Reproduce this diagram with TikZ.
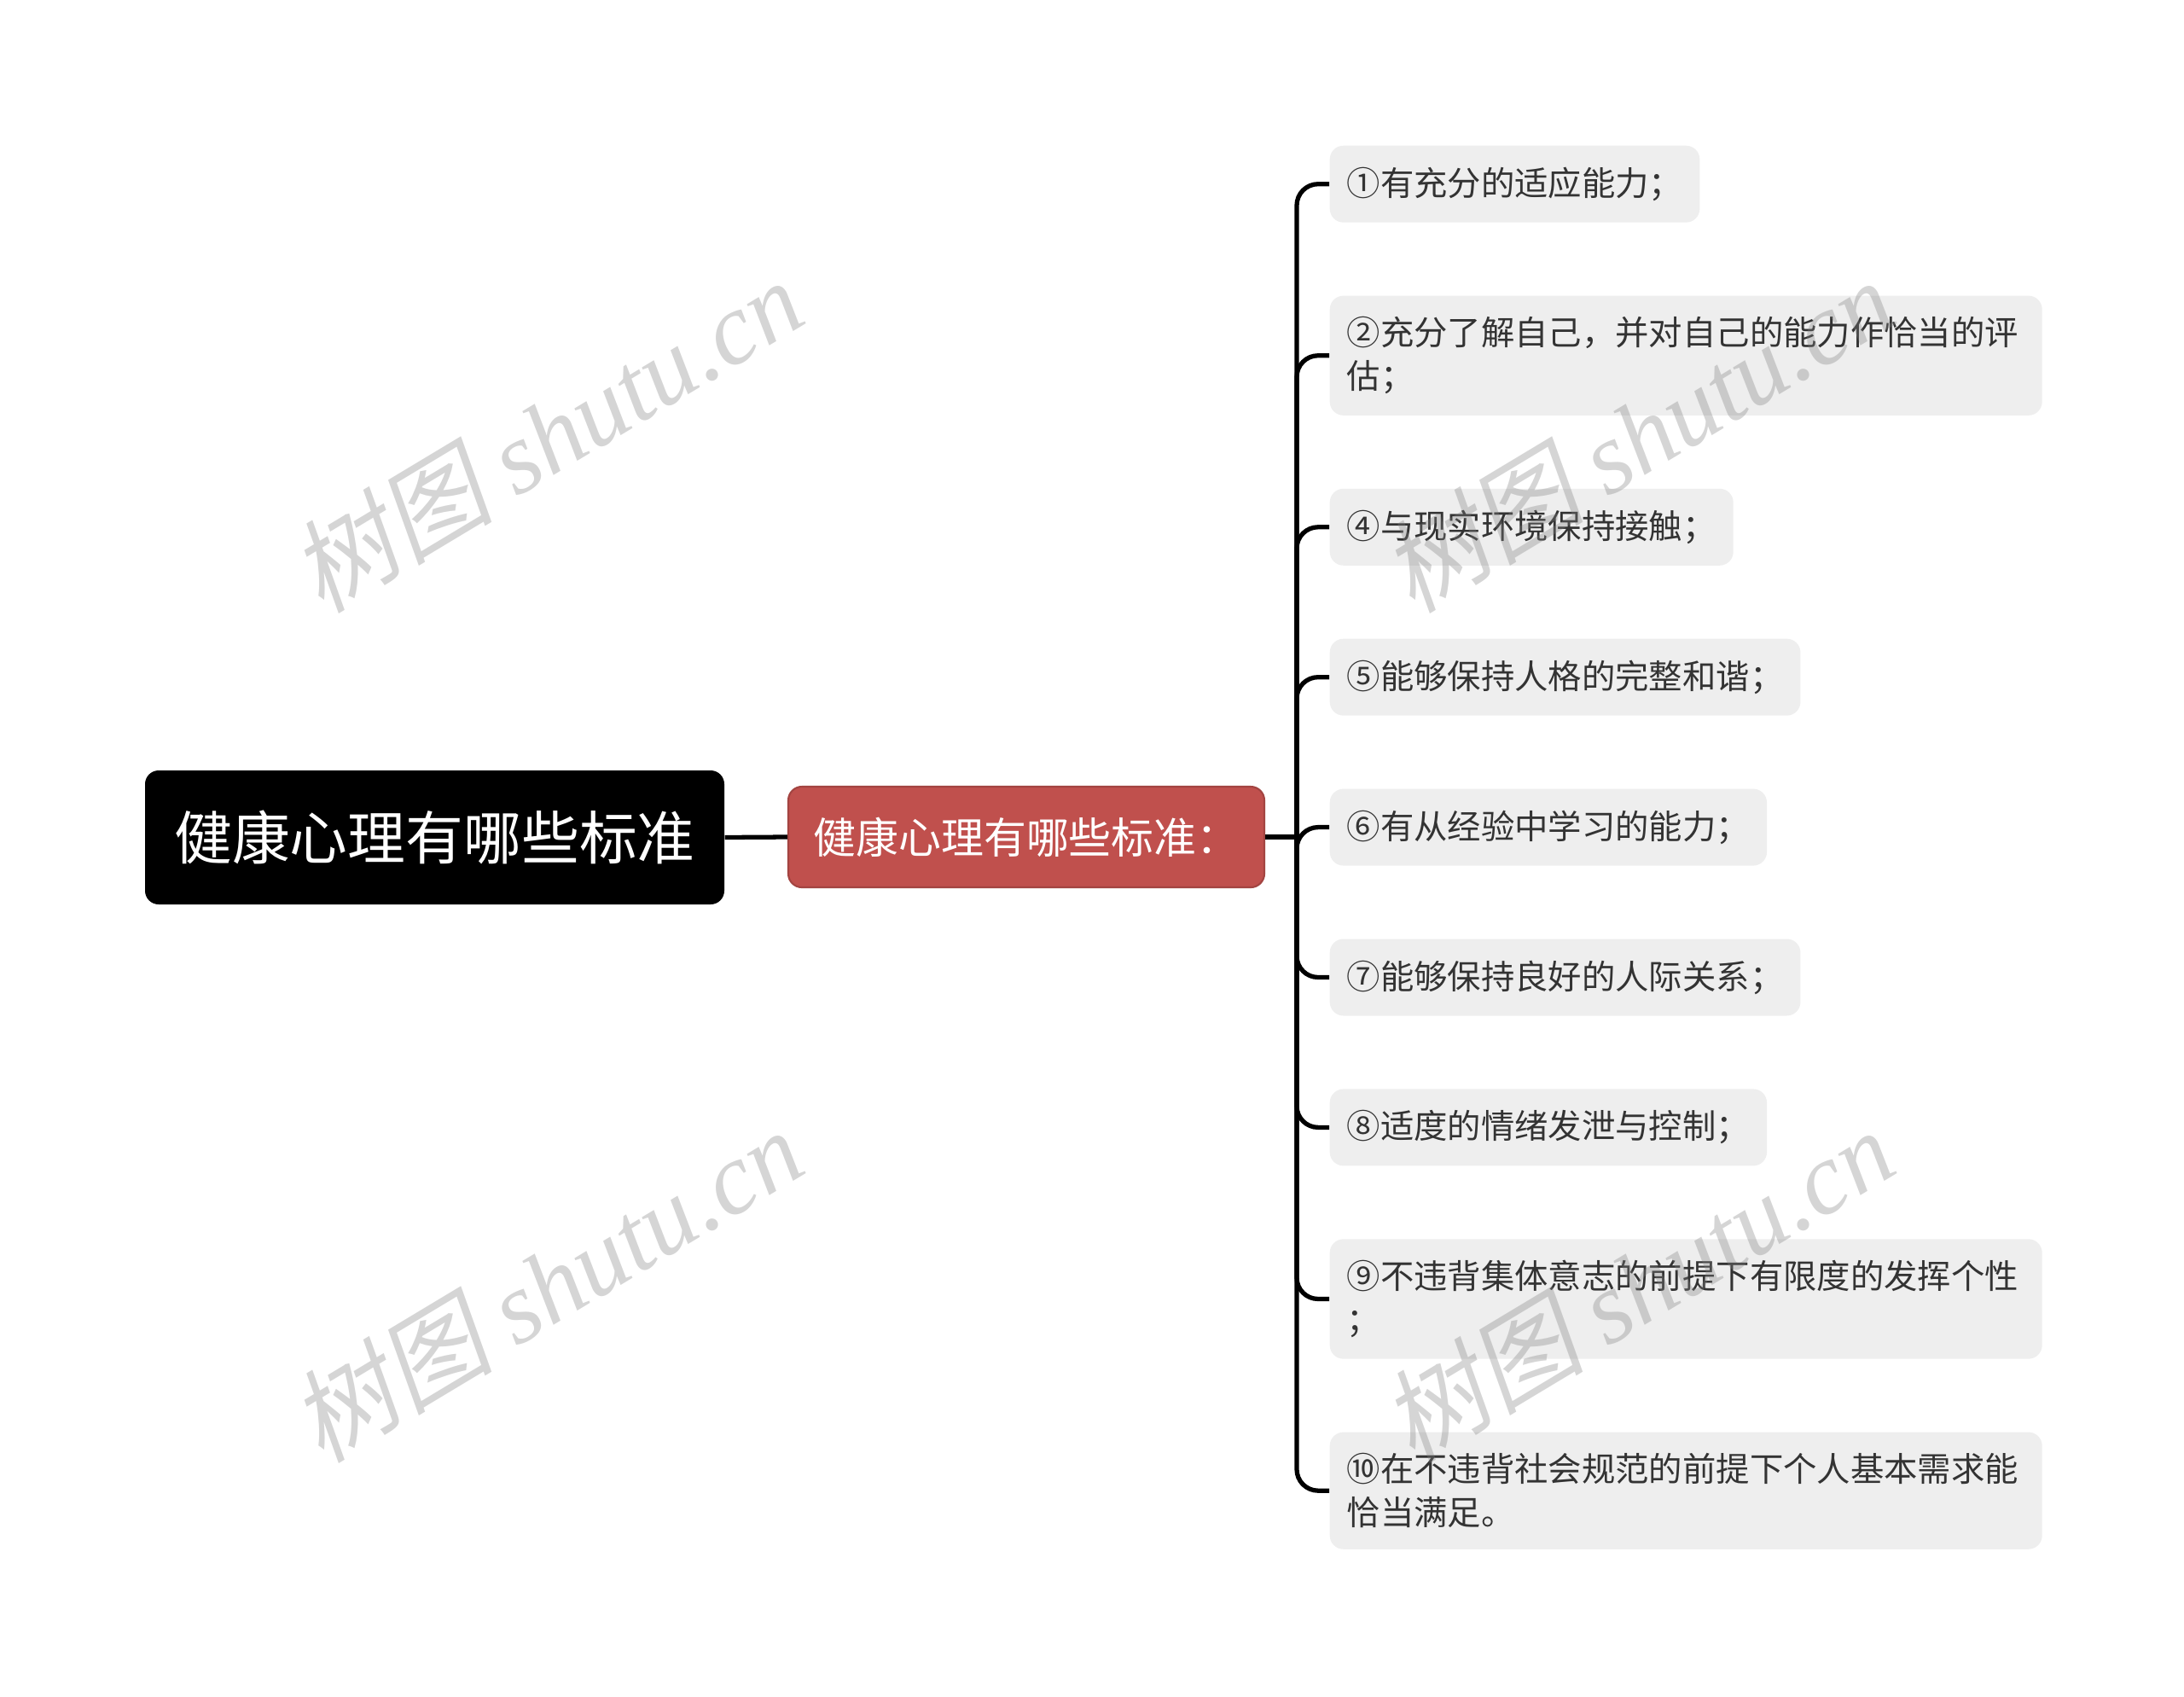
\documentclass[tikz,border=0pt]{standalone}
\usepackage{fontspec}
\setmainfont{Noto Sans CJK SC}
\newfontfamily\wmcjk[FakeSlant=0.2]{Noto Sans CJK SC}
\newfontfamily\wmlatin{Liberation Serif}
\usetikzlibrary{positioning}
\definecolor{leafgray}{RGB}{238,238,238}
\definecolor{leafink}{RGB}{51,51,51}
\definecolor{topicred}{RGB}{192,80,77}
\begin{document}
\begin{tikzpicture}
            [
                link/.style      = {draw=black, line width=1.5pt, rounded corners=0.25cm},
                rootbox/.style   = {shape=rectangle, rounded corners=0.16cm, fill=black,
                text=white, inner sep=0pt, minimum width=6.79cm, minimum height=1.57cm,
                font=\fontsize{19.3pt}{23pt}\selectfont},
                topicbox/.style  = {shape=rectangle, rounded corners=0.16cm, fill=topicred,
                draw=topicred!85!black, line width=0.6pt, text=white, inner sep=0pt,
                minimum width=5.58cm, minimum height=1.18cm,
                font=\fontsize{14.2pt}{17pt}\selectfont},
                leaf/.style      = {shape=rectangle, rounded corners=0.16cm, fill=leafgray,
                text=leafink, align=left, anchor=north west,
                inner xsep=0.2cm, inner ysep=0.25cm, minimum height=0.9cm,
                font=\fontsize{11.2pt}{14.4pt}\selectfont},
                wide/.style      = {text width=7.95cm},
                watermark/.style = {rotate=31, text=gray, opacity=0.33,
                font=\fontsize{34pt}{40pt}\selectfont}
            ]
            \useasboundingbox (0,0) rectangle (25.6,-19.88);
            % main topic and its sub topic
            \node [rootbox] (root) at (5.095,-9.815) {健康心理有哪些标准};
            \node [topicbox] (topic) at (12.03,-9.81) {健康心理有哪些标准：};
            \coordinate (hub) at (15.2,-9.81);
            % the standards
            \node [leaf] (c1) at (15.58,-1.70) {①有充分的适应能力；};
            \node [leaf, wide, below=0.845cm of c1.south west, anchor=north west] (c2)
                {②充分了解自己，并对自己的能力作恰当的评\\估；};
            \node [leaf, below=0.845cm of c2.south west, anchor=north west] (c4)
                {④与现实环境保持接触；};
            \node [leaf, below=0.845cm of c4.south west, anchor=north west] (c5)
                {⑤能够保持人格的完整和谐；};
            \node [leaf, below=0.845cm of c5.south west, anchor=north west] (c6)
                {⑥有从经验中学习的能力；};
            \node [leaf, below=0.845cm of c6.south west, anchor=north west] (c7)
                {⑦能够保持良好的人际关系；};
            \node [leaf, below=0.845cm of c7.south west, anchor=north west] (c8)
                {⑧适度的情绪发泄与控制；};
            \node [leaf, wide, below=0.845cm of c8.south west, anchor=north west] (c9)
                {⑨不违背集体意志的前提下有限度的发挥个性\\；};
            \node [leaf, wide, below=0.845cm of c9.south west, anchor=north west] (c10)
                {⑩在不违背社会规范的前提下个人基本需求能\\恰当满足。};
            % connectors
            \draw [link] (root.east) -- (topic.west);
            \draw [link] (topic.east) -- (hub);
            \foreach \c in {c1,c2,c4,c5,c6,c7,c8,c9,c10}
                \draw [link] (hub) |- (\c.west);
            % watermarks
            \node [watermark] (wm1) at (6.40,-5.10) {\wmcjk 树图 \wmlatin\itshape shutu.cn};
            \node [watermark] (wm2) at (6.40,-15.06) {\wmcjk 树图 \wmlatin\itshape shutu.cn};
            \node [watermark] (wm3) at (19.19,-5.10) {\wmcjk 树图 \wmlatin\itshape shutu.cn};
            \node [watermark] (wm4) at (19.19,-15.06) {\wmcjk 树图 \wmlatin\itshape shutu.cn};
\end{tikzpicture}
\end{document}
